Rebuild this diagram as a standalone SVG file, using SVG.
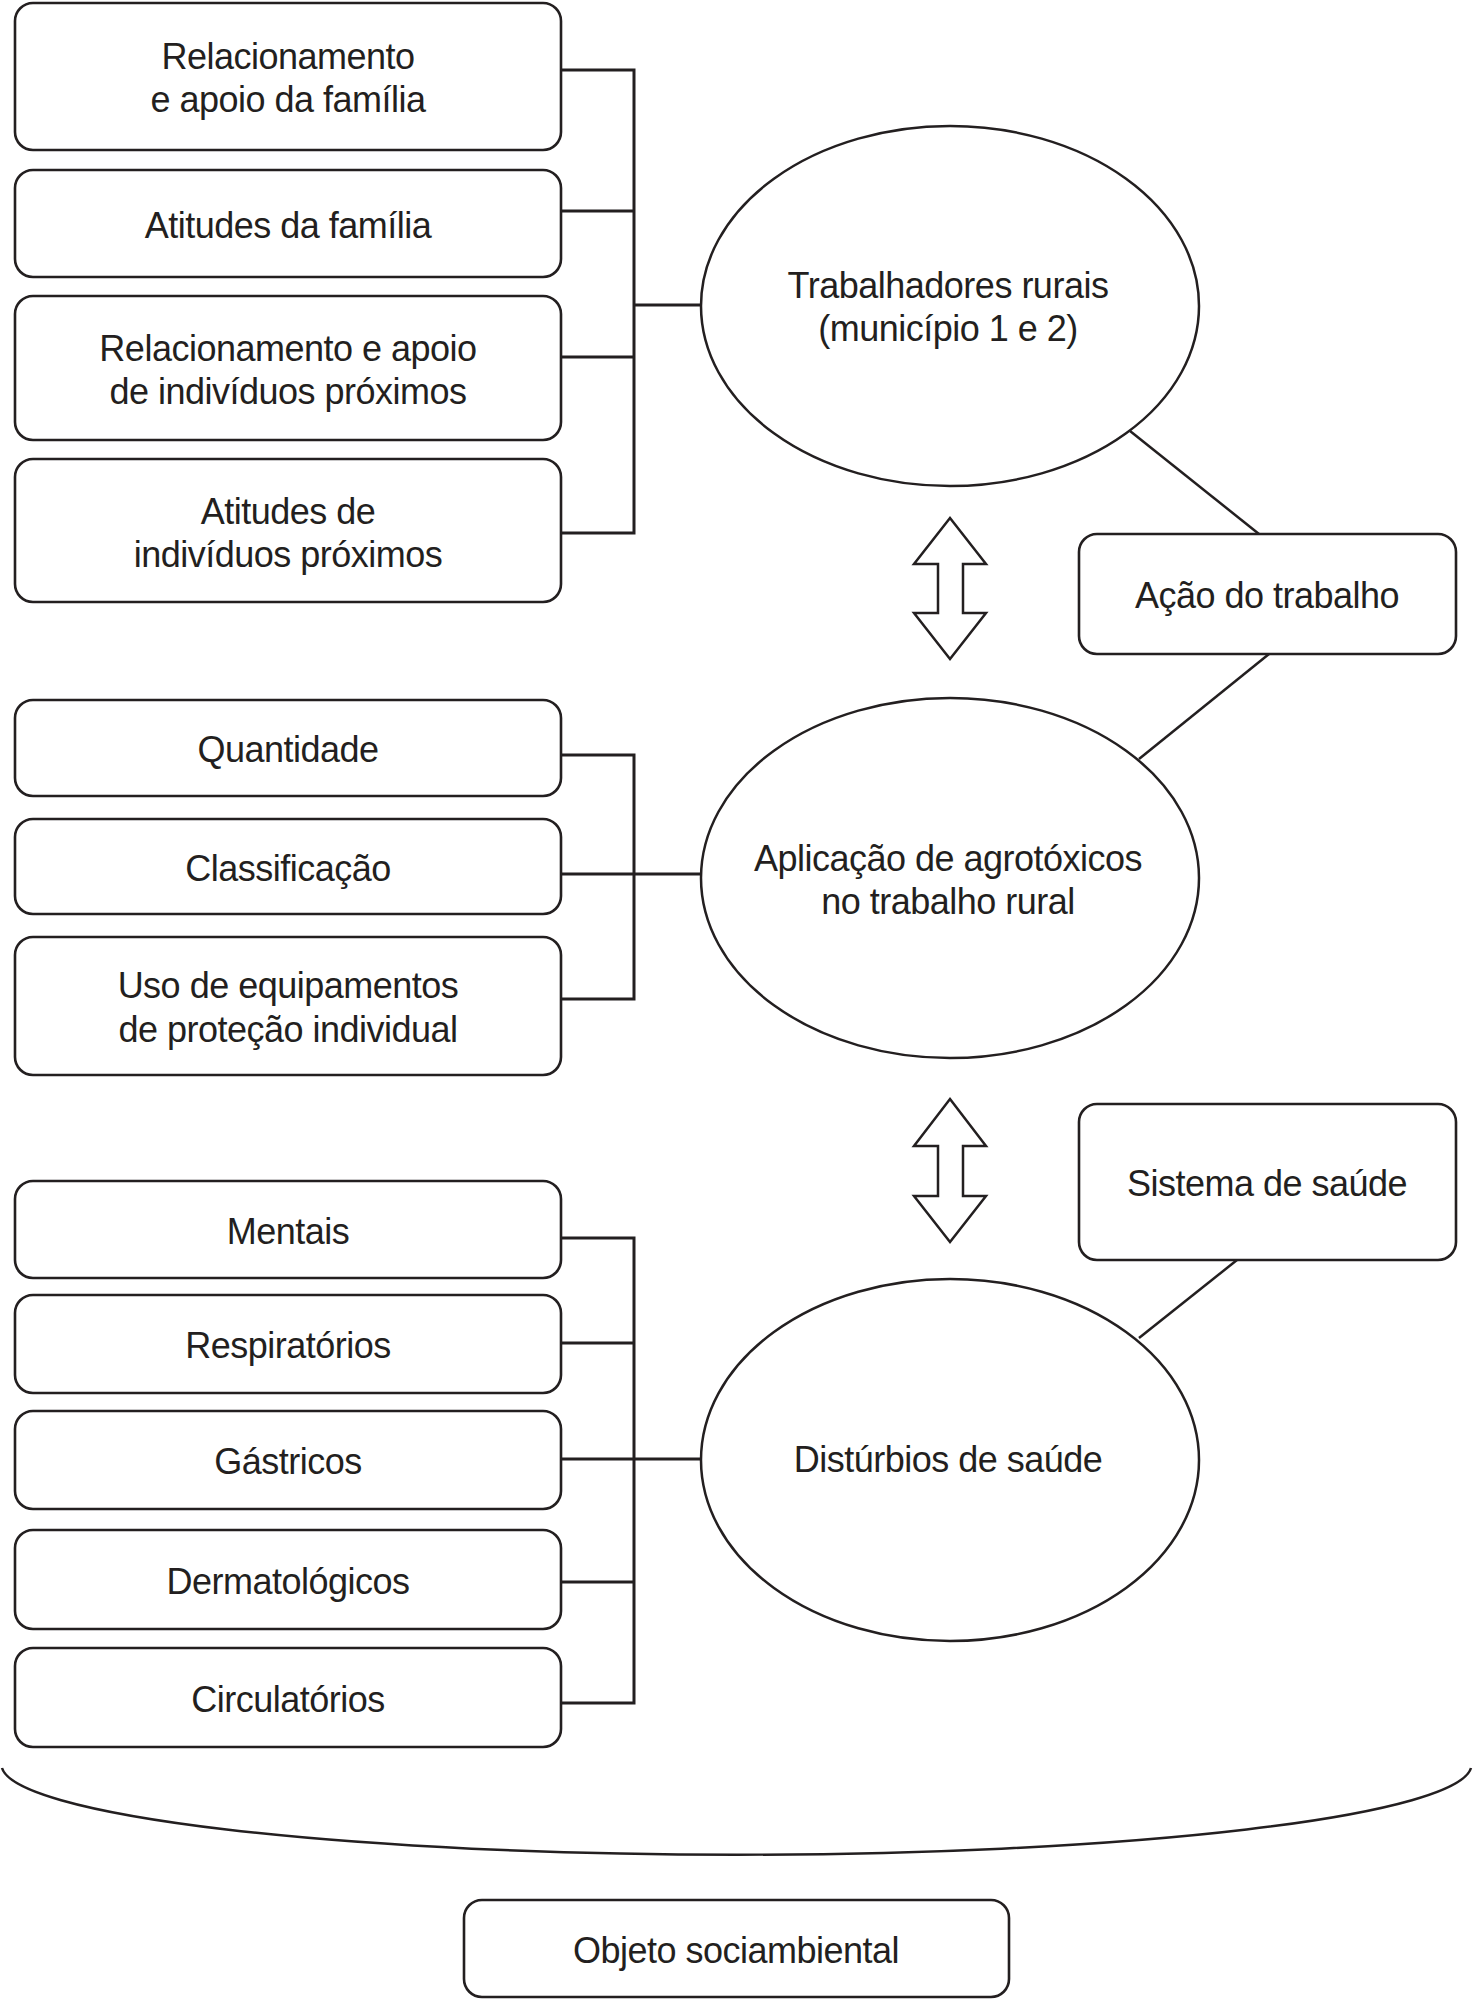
<svg xmlns="http://www.w3.org/2000/svg" width="1473" height="2000" viewBox="0 0 1473 2000">
<style>
.box{fill:#fff;stroke:#231f20;stroke-width:2.6}
.ell{fill:#fff;stroke:#231f20;stroke-width:2.5}
.ln{fill:none;stroke:#231f20;stroke-width:3}
.dl{fill:none;stroke:#231f20;stroke-width:2.5}
.arr{fill:#fff;stroke:#231f20;stroke-width:2.5;stroke-linejoin:miter}
text{font-family:"Liberation Sans",Arial,sans-serif;font-size:36px;fill:#231f20;text-anchor:middle;letter-spacing:-0.5px}
</style>
<rect width="1473" height="2000" fill="#fff"/>
<g id="connectors">
<path class="ln" d="M561 70H634V533H561M561 211H634M561 357H634M634 305H701"/>
<path class="ln" d="M561 755H634V999H561M561 874H701"/>
<path class="ln" d="M561 1238H634V1703H561M561 1343H634M561 1582H634M561 1459H701"/>
<line class="dl" x1="1130" y1="431" x2="1259" y2="534"/>
<line class="dl" x1="1269" y1="654" x2="1139" y2="759"/>
<line class="dl" x1="1237" y1="1260" x2="1139" y2="1338"/>
<polygon class="arr" points="950,518 986,564 963,564 963,613 986,613 950,659 914,613 938,613 938,564 914,564"/>
<polygon class="arr" points="950,1099 986,1146 963,1146 963,1196 986,1196 950,1242 914,1196 938,1196 938,1146 914,1146"/>
<path class="dl" d="M2 1768A735 90 0 0 0 1471 1768"/>
</g>
<g id="n1"><rect class="box" x="15" y="3" width="546" height="147" rx="18"/><text x="288" y="69">Relacionamento</text><text x="288" y="112">e apoio da família</text></g>
<g id="n2"><rect class="box" x="15" y="170" width="546" height="107" rx="18"/><text x="288" y="238">Atitudes da família</text></g>
<g id="n3"><rect class="box" x="15" y="296" width="546" height="144" rx="18"/><text x="288" y="361">Relacionamento e apoio</text><text x="288" y="404">de indivíduos próximos</text></g>
<g id="n4"><rect class="box" x="15" y="459" width="546" height="143" rx="18"/><text x="288" y="524">Atitudes de</text><text x="288" y="567">indivíduos próximos</text></g>
<g id="e1"><ellipse class="ell" cx="950" cy="306" rx="249" ry="180"/><text x="948" y="298">Trabalhadores rurais</text><text x="948" y="341">(município 1 e 2)</text></g>
<g id="acao"><rect class="box" x="1079" y="534" width="377" height="120" rx="18"/><text x="1267" y="608">Ação do trabalho</text></g>
<g id="n5"><rect class="box" x="15" y="700" width="546" height="96" rx="18"/><text x="288" y="762">Quantidade</text></g>
<g id="n6"><rect class="box" x="15" y="819" width="546" height="95" rx="18"/><text x="288" y="881">Classificação</text></g>
<g id="n7"><rect class="box" x="15" y="937" width="546" height="138" rx="18"/><text x="288" y="998">Uso de equipamentos</text><text x="288" y="1042">de proteção individual</text></g>
<g id="e2"><ellipse class="ell" cx="950" cy="878" rx="249" ry="180"/><text x="948" y="871">Aplicação de agrotóxicos</text><text x="948" y="914">no trabalho rural</text></g>
<g id="sistema"><rect class="box" x="1079" y="1104" width="377" height="156" rx="18"/><text x="1267" y="1196">Sistema de saúde</text></g>
<g id="n8"><rect class="box" x="15" y="1181" width="546" height="97" rx="18"/><text x="288" y="1244">Mentais</text></g>
<g id="n9"><rect class="box" x="15" y="1295" width="546" height="98" rx="18"/><text x="288" y="1358">Respiratórios</text></g>
<g id="n10"><rect class="box" x="15" y="1411" width="546" height="98" rx="18"/><text x="288" y="1474">Gástricos</text></g>
<g id="n11"><rect class="box" x="15" y="1530" width="546" height="99" rx="18"/><text x="288" y="1594">Dermatológicos</text></g>
<g id="n12"><rect class="box" x="15" y="1648" width="546" height="99" rx="18"/><text x="288" y="1712">Circulatórios</text></g>
<g id="e3"><ellipse class="ell" cx="950" cy="1460" rx="249" ry="181"/><text x="948" y="1472">Distúrbios de saúde</text></g>
<g id="objeto"><rect class="box" x="464" y="1900" width="545" height="97" rx="18"/><text x="736" y="1963">Objeto sociambiental</text></g>
</svg>
